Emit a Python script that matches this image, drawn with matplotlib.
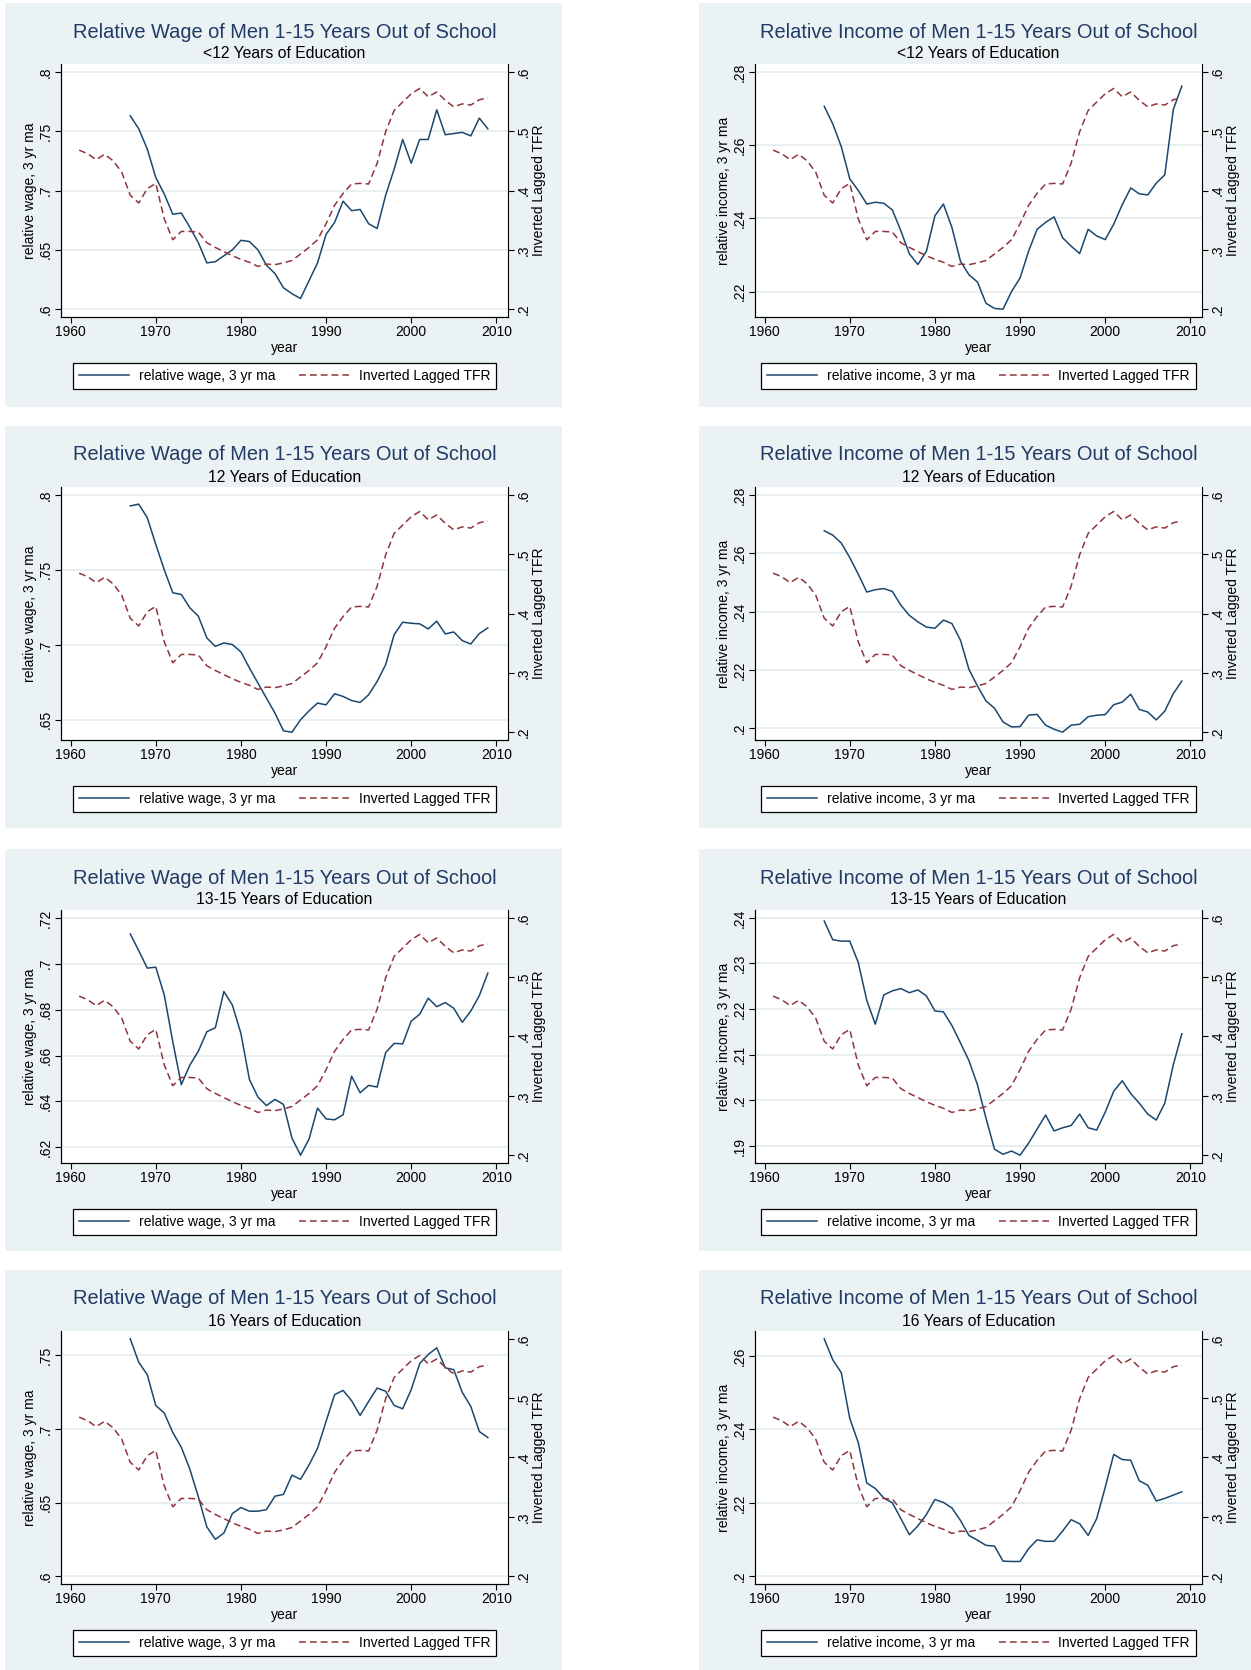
import matplotlib.pyplot as plt
from matplotlib.patches import Rectangle
from matplotlib.ticker import FuncFormatter

plt.rcParams['font.family'] = ['Liberation Sans', 'DejaVu Sans']

# years
years_tfr = list(range(1961, 2010))
years_rel = list(range(1967, 2010))

# inverted lagged TFR (same in every panel)
tfr_inv = [0.468, 0.462, 0.452, 0.461, 0.450, 0.431, 0.392, 0.379, 0.403, 0.412,
           0.352, 0.317, 0.331, 0.331, 0.330, 0.312, 0.304, 0.297, 0.290, 0.284,
           0.279, 0.272, 0.276, 0.275, 0.278, 0.282, 0.293, 0.304, 0.317, 0.344,
           0.375, 0.395, 0.411, 0.412, 0.411, 0.446, 0.499, 0.535, 0.549, 0.563,
           0.572, 0.558, 0.566, 0.552, 0.541, 0.546, 0.544, 0.553, 0.556]

# relative wage / income, 3 yr moving average, 1967-2009
wage_lt12 = [0.763, 0.752, 0.735, 0.711, 0.697, 0.680, 0.681, 0.669, 0.656, 0.639,
             0.640, 0.645, 0.650, 0.658, 0.657, 0.650, 0.637, 0.630, 0.618, 0.613,
             0.609, 0.624, 0.639, 0.663, 0.673, 0.691, 0.683, 0.684, 0.672, 0.668,
             0.696, 0.718, 0.743, 0.723, 0.743, 0.743, 0.768, 0.747, 0.748, 0.749,
             0.746, 0.761, 0.752]
income_lt12 = [0.2706, 0.2658, 0.2596, 0.2508, 0.2476, 0.2439, 0.2444, 0.2441, 0.2423, 0.2366,
               0.2303, 0.2274, 0.2310, 0.2407, 0.2439, 0.2375, 0.2283, 0.2246, 0.2226, 0.2168,
               0.2154, 0.2152, 0.2200, 0.2237, 0.2310, 0.2370, 0.2389, 0.2404, 0.2347, 0.2324,
               0.2304, 0.2370, 0.2352, 0.2342, 0.2384, 0.2437, 0.2483, 0.2467, 0.2464, 0.2496,
               0.2519, 0.2697, 0.2761]
wage_12 = [0.7926, 0.7938, 0.7848, 0.767, 0.750, 0.7347, 0.7336, 0.7247, 0.7191, 0.7046,
           0.699, 0.7013, 0.7002, 0.6953, 0.6846, 0.6745, 0.6645, 0.6545, 0.6427, 0.6418,
           0.650, 0.656, 0.6612, 0.660, 0.6674, 0.6656, 0.6629, 0.6616, 0.6667, 0.6756,
           0.6868, 0.7068, 0.7151, 0.7144, 0.714, 0.7106, 0.7158, 0.7073, 0.7086, 0.7028,
           0.7006, 0.7075, 0.7113]
income_12 = [0.2677, 0.2662, 0.2635, 0.2585, 0.2528, 0.2467, 0.2475, 0.2479, 0.2469, 0.2422,
             0.2387, 0.2365, 0.2347, 0.2343, 0.2371, 0.2359, 0.2302, 0.2202, 0.2145, 0.2094,
             0.2069, 0.2022, 0.2005, 0.2006, 0.2045, 0.2048, 0.2011, 0.1997, 0.1987, 0.2011,
             0.2014, 0.2040, 0.2045, 0.2047, 0.2081, 0.2090, 0.2117, 0.2065, 0.2056, 0.2029,
             0.2059, 0.2119, 0.2162]
wage_13_15 = [0.713, 0.7057, 0.6981, 0.6985, 0.6864, 0.666, 0.6473, 0.6558, 0.6619, 0.6704,
              0.6721, 0.6879, 0.682, 0.6696, 0.6496, 0.6419, 0.6382, 0.6409, 0.6387, 0.624,
              0.6166, 0.6236, 0.6371, 0.6324, 0.632, 0.6342, 0.651, 0.6438, 0.647, 0.6463,
              0.6613, 0.6653, 0.6651, 0.675, 0.678, 0.685, 0.6813, 0.6831, 0.6806, 0.6745,
              0.6794, 0.6861, 0.6959]
income_13_15 = [0.2393, 0.2352, 0.2349, 0.2349, 0.2302, 0.2219, 0.2167, 0.2231, 0.2240, 0.2245,
                0.2236, 0.2242, 0.2229, 0.2196, 0.2194, 0.2164, 0.2126, 0.2087, 0.2034, 0.1961,
                0.1893, 0.1882, 0.1889, 0.1880, 0.1906, 0.1937, 0.1968, 0.1933, 0.1940, 0.1945,
                0.1970, 0.1940, 0.1935, 0.1974, 0.2020, 0.2043, 0.2015, 0.1994, 0.1970, 0.1957,
                0.1994, 0.2078, 0.2146]
wage_16 = [0.7611, 0.7452, 0.7368, 0.7159, 0.7107, 0.6975, 0.6875, 0.6727, 0.6539, 0.6334,
           0.625, 0.6293, 0.6425, 0.6466, 0.6441, 0.6441, 0.6452, 0.6543, 0.6555, 0.6686,
           0.6657, 0.6755, 0.6868, 0.705, 0.7232, 0.7261, 0.7191, 0.7091, 0.7186, 0.7277,
           0.7255, 0.7159, 0.7136, 0.7266, 0.7443, 0.7505, 0.755, 0.7414, 0.7402, 0.7248,
           0.7152, 0.6982, 0.6941]
income_16 = [0.2647, 0.2590, 0.2555, 0.2430, 0.2364, 0.2254, 0.2239, 0.2213, 0.2200, 0.2157,
             0.2113, 0.2137, 0.2168, 0.2209, 0.2201, 0.2186, 0.2152, 0.2111, 0.2098, 0.2084,
             0.2082, 0.2041, 0.2040, 0.2040, 0.2075, 0.2099, 0.2095, 0.2095, 0.2123, 0.2154,
             0.2143, 0.2111, 0.2157, 0.2242, 0.2332, 0.2318, 0.2316, 0.2260, 0.2248, 0.2205,
             0.2212, 0.2221, 0.2230]

wage_series = [wage_lt12, wage_12, wage_13_15, wage_16]
income_series = [income_lt12, income_12, income_13_15, income_16]

wage_title = 'Relative Wage of Men 1-15 Years Out of School'
income_title = 'Relative Income of Men 1-15 Years Out of School'
subtitles = ['<12 Years of Education', '12 Years of Education',
             '13-15 Years of Education', '16 Years of Education']

wage_ticks = [[.6, .65, .7, .75, .8], [.65, .7, .75, .8],
              [.62, .64, .66, .68, .7, .72], [.6, .65, .7, .75]]
income_ticks = [[.22, .24, .26, .28], [.2, .22, .24, .26, .28],
                [.19, .2, .21, .22, .23, .24], [.2, .22, .24, .26]]
tfr_ticks = [.2, .3, .4, .5, .6]
year_ticks = [1960, 1970, 1980, 1990, 2000, 2010]

# colours (Stata s2color look)
bg = '#eaf2f3'
grid_c = '#e3ecee'
navy = '#1a476f'
maroon = '#90353b'
title_c = '#213a66'

W, H = 1251, 1670
fig = plt.figure(figsize=(W / 100, H / 100), dpi=100)


def box(x0, y0, x1, y1):
    return [x0 / W, 1 - y1 / H, (x1 - x0) / W, (y1 - y0) / H]


stata_fmt = FuncFormatter(lambda v, p: ('%g' % v).lstrip('0'))

row_top = [3, 426, 849, 1270]
row_bot = [407, 828, 1251, 1670]
col_left = [5, 699]
col_right = [562, 1251]

for r in range(4):
    for c in range(2):
        ox, oy = col_left[c], row_top[r]
        fig.patches.append(Rectangle((ox / W, 1 - row_bot[r] / H),
                                     (col_right[c] - ox) / W, (row_bot[r] - oy) / H,
                                     transform=fig.transFigure, facecolor=bg,
                                     edgecolor='none', zorder=-5))
        if c == 0:
            series, ticks, title = wage_series[r], wage_ticks[r], wage_title
            ylab = 'relative wage, 3 yr ma'
        else:
            series, ticks, title = income_series[r], income_ticks[r], income_title
            ylab = 'relative income, 3 yr ma'

        ax = fig.add_axes(box(ox + 56, oy + 61, ox + 503, oy + 314))
        ax.set_facecolor('white')
        l1, = ax.plot(years_rel, series, color=navy, lw=1.1, zorder=3)
        ax.set_xlim(1958.87, 2011.37)
        ax.set_xticks(year_ticks)
        lo = min(min(series), ticks[0])
        hi = max(max(series), ticks[-1])
        pad = 0.033 * (hi - lo)
        ax.set_ylim(lo - pad, hi + pad)
        ax.set_yticks(ticks)
        ax.yaxis.set_major_formatter(stata_fmt)
        ax.yaxis.grid(True, color=grid_c, lw=1.2)
        ax.set_axisbelow(True)
        ax.spines['top'].set_visible(False)
        ax.spines['right'].set_visible(False)
        for s in ['left', 'bottom']:
            ax.spines[s].set_linewidth(0.8)
        ax.tick_params(direction='out', length=4, width=0.8, labelsize=10, pad=2)
        ax.tick_params(axis='y', labelrotation=90)
        for t in ax.get_yticklabels():
            t.set_va('center')
        ax.set_xlabel('year', fontsize=10, labelpad=1)
        ax.set_ylabel(ylab, fontsize=10, labelpad=1)

        ax2 = ax.twinx()
        l2, = ax2.plot(years_tfr, tfr_inv, color=maroon, lw=1.1,
                       ls=(0, (4.5, 2.6)), zorder=3)
        rlo = min(min(tfr_inv), tfr_ticks[0])
        rhi = max(max(tfr_inv), tfr_ticks[-1])
        rpad = 0.033 * (rhi - rlo)
        ax2.set_ylim(rlo - rpad, rhi + rpad)
        ax2.set_yticks(tfr_ticks)
        ax2.yaxis.set_major_formatter(stata_fmt)
        ax2.spines['top'].set_visible(False)
        ax2.spines['right'].set_linewidth(0.8)
        ax2.tick_params(direction='out', length=4, width=0.8, labelsize=10, pad=2)
        ax2.tick_params(axis='y', labelrotation=90)
        for t in ax2.get_yticklabels():
            t.set_va('center')
        ax2.set_ylabel('Inverted Lagged TFR', fontsize=10, labelpad=1)

        cx = (ox + 56 + ox + 503) / 2
        fig.text(cx / W, 1 - (oy + 29) / H, title, ha='center', va='center',
                 fontsize=14.4, color=title_c)
        fig.text(cx / W, 1 - (oy + 51) / H, subtitles[r], ha='center', va='center',
                 fontsize=11.3, color='black')

        leg = fig.legend([l1, l2], [ylab, 'Inverted Lagged TFR'], loc='center',
                         bbox_to_anchor=(cx / W, 1 - (oy + 373) / H), ncol=2,
                         frameon=True, fancybox=False, edgecolor='black',
                         framealpha=1, fontsize=10, handlelength=3.6,
                         handletextpad=0.7, columnspacing=1.7, borderpad=0.45)
        leg.get_frame().set_linewidth(0.9)

fig.savefig('out.png', dpi=100, facecolor='white')
